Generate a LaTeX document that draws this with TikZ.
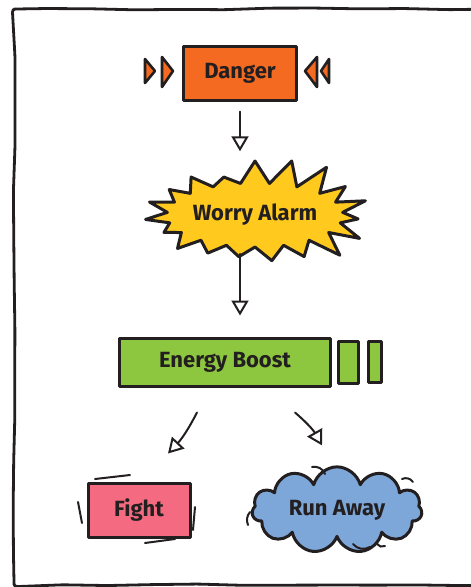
\documentclass[tikz,border=0pt]{standalone}
\usepackage{fontspec}
\setmainfont{Fira Sans}
\usetikzlibrary{arrows.meta,decorations.pathmorphing,shapes.symbols,positioning}
\definecolor{inkdark}{RGB}{35,31,32}
\definecolor{dangerorange}{RGB}{244,106,33}
\definecolor{alarmyellow}{RGB}{255,201,30}
\definecolor{boostgreen}{RGB}{141,198,63}
\definecolor{fightpink}{RGB}{244,106,128}
\definecolor{runblue}{RGB}{125,166,217}

\begin{document}
\begin{tikzpicture}[x=1pt,y=-1pt,font=\fontsize{22}{24}\selectfont\bfseries,
    lbl/.style={text=inkdark,draw=inkdark,line width=3pt,inner sep=0pt,align=center,line join=round},
    box/.style={lbl,rectangle},
    tri/.style={draw=inkdark,fill=dangerorange,line width=2.6pt,line join=round},
    sketch/.style={draw=inkdark,line width=2pt,line cap=round},
    arr/.style={-{Triangle[open,length=15pt,width=17pt,line width=2pt]},inkdark,line width=2pt,line cap=round},
    frame/.style={inkdark,line width=2.8pt,decorate,decoration={random steps,segment length=45pt,amplitude=1pt},rounded corners=3pt}]
  \useasboundingbox (0,0) rectangle (471,587);
  \clip (0,0) rectangle (471,587);
  \draw[frame] (495,9) -- (14,9) -- (14,585) -- (495,585);

  \node[box,fill=dangerorange,minimum width=113pt,minimum height=54pt] (danger) at (240,73) {Danger};
  \draw[tri] (145,59) -- (155,71) -- (145,83) -- cycle;
  \draw[tri] (162,57) -- (173,71) -- (162,87) -- cycle;
  \draw[tri] (317,57) -- (305,71) -- (317,87) -- cycle;
  \draw[tri] (329,59) -- (321,71) -- (329,83) -- cycle;

  \node[lbl,starburst,fill=alarmyellow,starburst points=19,starburst point height=32pt,random starburst=31,
        minimum width=236pt,minimum height=128pt] (alarm) at (255,215) {Worry Alarm};

  \node[box,fill=boostgreen,minimum width=211pt,minimum height=48pt] (boost) at (225,362) {Energy Boost};
  \node[box,fill=boostgreen,minimum width=20pt,minimum height=42pt,right=5pt of boost] (barA) {};
  \node[box,fill=boostgreen,minimum width=13pt,minimum height=41pt,right=7pt of barA] (barB) {};

  \node[box,fill=fightpink,minimum width=102pt,minimum height=54pt] (fight) at (139,510) {Fight};
  \node[lbl,cloud,cloud puffs=11,aspect=2.3,fill=runblue,minimum width=170pt,minimum height=76pt] (run) at (337,510) {Run Away};

  \draw[arr,shorten <=10pt,shorten >=7pt] (danger.south) -- (danger.south |- alarm.north);
  \draw[arr,shorten <=5pt,shorten >=21pt] (alarm.south -| danger.south) -- (boost.north -| danger.south);
  \draw[arr] ([xshift=-28pt,yshift=-25pt]boost.south) to[bend left=8] ([xshift=29pt,yshift=28pt]fight.north);
  \draw[arr] ([xshift=70pt,yshift=-25pt]boost.south) to[bend left=10] ([xshift=-15pt,yshift=20pt]run.north);

  \draw[sketch] (95,479) -- (130,475);
  \draw[sketch] (145,543) -- (175,539);
  \draw[sketch] (78,502) -- (82,523);
  \draw[sketch] (195,507) -- (193,530);
  \draw[sketch] (312,467) to[bend left=40] (325,474);
  \draw[sketch] (402,479) to[bend left=40] (413,482);
  \draw[sketch] (353,544) to[bend right=40] (370,547);
  \draw[sketch] (377,544) to[bend right=40] (385,546);
  \draw[sketch] (250,512) to[bend right=30] (248,525);
\end{tikzpicture}
\end{document}
